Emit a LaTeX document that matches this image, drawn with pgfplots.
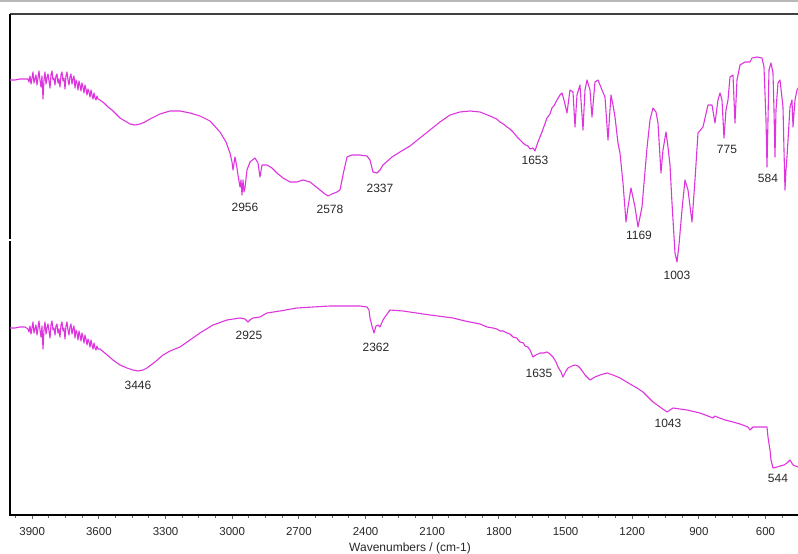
\documentclass[border=0pt]{standalone}
\usepackage{pgfplots}
\pgfplotsset{compat=1.18}
\usepackage{fontspec}
\setmainfont{Liberation Sans}
\definecolor{mag}{RGB}{222,52,222}
\definecolor{txt}{RGB}{40,40,40}
\begin{document}
\begin{tikzpicture}
\useasboundingbox (-10pt,-39pt) rectangle (788pt,515pt);
\draw[black!28, line width=1.6pt] (-10pt,514pt) -- (788pt,514pt);
\begin{axis}[
  scale only axis,
  width=800pt, height=501pt,
  xmin=400, xmax=4000, ymin=0, ymax=501,
  x dir=reverse,
  axis line style={draw=none},
  ytick=\empty,
  xtick={600,900,...,3900},
  minor xtick={450,525,...,3975},
  xtick pos=bottom,
  xtick align=outside,
  major tick length=4.5pt,
  minor tick length=3pt,
  every tick/.style={black!60, line width=0.9pt},
  tick label style={font=\fontsize{11.5}{13}\selectfont, text=txt},
  /pgf/number format/assume math mode=true,
  /pgf/number format/1000 sep={},
  xticklabel style={yshift=-4pt},
  xlabel={Wavenumbers / (cm-1)},
  xlabel style={font=\fontsize{12}{14}\selectfont, text=txt, yshift=-1pt},
  clip=false,
]
\draw[black!75, line width=1.5pt] (rel axis cs:0,1) -- (rel axis cs:1,1);
\draw[black, line width=2pt] (rel axis cs:0,1) -- (rel axis cs:0,0) -- (rel axis cs:1,0);
\draw[white, line width=1.2pt] ([xshift=-2pt]axis cs:4000,275) -- ([xshift=2pt]axis cs:4000,275);
% upper spectrum
\addplot[mag, line width=1.1pt, line join=round] coordinates {
(4000,435)(3977.5,435)(3955,436)(3932.5,436)
(3919,436)(3914.5,433)(3910,439)(3905.5,431)(3901,437)(3896.5,443)(3892,432)(3887.5,436)(3883,440)(3878.5,430)
(3874,437)(3869.5,444)(3865,435)(3860.5,428)(3856,439)(3851.5,416)(3847,435)(3842.5,443)(3838,431)(3833.5,437)
(3829,441)(3824.5,434)(3820,427)(3815.5,440)(3811,444)(3806.5,435)(3802,437)(3797.5,430)(3793,439)(3788.5,441)
(3784,432)(3779.5,436)(3775,428)(3770.5,440)(3766,443)(3761.5,434)(3757,437)(3752.5,426)(3748,439)(3743.5,443)
(3739,435)(3734.5,430)(3730,438)(3725.5,441)(3721,431)(3716.5,436)(3712,439)(3707.5,427)(3703,435)(3698.5,432)
(3694,425)(3689.5,434)(3685,430)(3680.5,424)(3676,432)(3671.5,428)(3667,422)(3662.5,430)(3658,426)(3653.5,420)
(3649,426)(3644.5,423)(3640,418)(3635.5,425)(3631,420)(3626.5,416)(3622,422)(3617.5,417)(3613,415)(3608.5,419)
(3604,416)(3595,415)(3577,412)(3559,408)(3541,405)(3523,401)(3505,397)(3482.5,394)(3460,391)(3437.5,390)
(3415,391)(3392.5,393)(3370,396)(3325,401)(3280,404)(3235,404)(3190,402)(3145,399)(3100,394)(3055,383)
(3028,373)(3010,362)(3001,353)(2996.5,345)(2987.5,358)(2978.5,347)(2974,340)(2965,328)(2960.5,335)(2956,320)
(2951.5,335)(2947,323)(2942.5,327)(2933.5,345)(2920,353)(2897.5,357)(2884,352)(2875,338)(2866,350)(2843.5,350)
(2821,347)(2798.5,342)(2771.5,337)(2740,333)(2708.5,333)(2681.5,335)(2650,333)(2627.5,329)(2605,325)(2582.5,321)
(2569,319)(2551,321)(2528.5,323)(2515,325)(2501.5,340)(2483.5,358)(2461,360)(2425,360)(2393.5,359)(2380,355)
(2366.5,343)(2348.5,342)(2335,345)(2321.5,350)(2281,358)(2245,363)(2200,369)(2155,377)(2110,385)(2065,393)
(2020,400)(1975,403)(1930,404)(1885,403)(1840,399)(1810,396)(1795,393)(1780,391)(1763.5,388)(1750,386)
(1736.5,383)(1725,380)(1714,377)(1700,374)(1691.5,372)(1680,370)(1669,369)(1660,366)(1646.5,367)(1637.5,364)
(1624,373)(1606,383)(1583.5,397)(1570,401)(1561,407)(1550,410)(1538.5,415)(1525,420)(1516,422)(1507,415)
(1493.5,402)(1480,425)(1466.5,423)(1457.5,388)(1448.5,420)(1435,430)(1421.5,385)(1412.5,425)(1403.5,435)(1390,425)
(1381,398)(1367.5,433)(1354,435)(1336,425)(1322.5,418)(1309,375)(1295.5,420)(1286.5,410)(1277.5,398)(1264,372)
(1255,362)(1241.5,332)(1228,293)(1219,308)(1205.5,327)(1187.5,308)(1174,288)(1156,308)(1133.5,367)(1120,395)
(1106.5,407)(1093,403)(1084,392)(1070.5,342)(1061.5,365)(1048,383)(1039,368)(1030,350)(1021,312)(1007.5,262)
(998.5,253)(989.5,270)(976,305)(962.5,335)(949,325)(931,293)(917.5,335)(904,382)(881.5,388)(859,410)
(841,410)(827.5,392)(814,415)(805,422)(796,415)(787,377)(778,405)(769,415)(760,438)(746.5,440)
(737.5,392)(728.5,435)(715,450)(692.5,453)(670,453)(661,457)(638.5,458)(616,457)(607,448)(598,395)
(593.5,348)(589,395)(584.5,445)(575.5,452)(566.5,442)(562,405)(557.5,358)(553,405)(544,432)(535,435)
(521.5,408)(517,365)(512.5,325)(508,345)(503.5,358)(490,408)(481,415)(476.5,388)(467.5,415)(458.5,425)
(445,430)
};
% lower spectrum
\addplot[mag, line width=1.1pt, line join=round] coordinates {
(4000,187)(3977.5,187)(3955,188)(3932.5,188)
(3919,186)(3914.5,183)(3910,189)(3905.5,181)(3901,187)(3896.5,193)(3892,182)(3887.5,186)(3883,190)(3878.5,180)
(3874,187)(3869.5,194)(3865,185)(3860.5,178)(3856,189)(3851.5,166)(3847,185)(3842.5,193)(3838,181)(3833.5,187)
(3829,191)(3824.5,184)(3820,177)(3815.5,190)(3811,194)(3806.5,185)(3802,187)(3797.5,180)(3793,189)(3788.5,191)
(3784,182)(3779.5,186)(3775,178)(3770.5,190)(3766,193)(3761.5,184)(3757,187)(3752.5,176)(3748,189)(3743.5,193)
(3739,185)(3734.5,180)(3730,188)(3725.5,191)(3721,181)(3716.5,186)(3712,189)(3707.5,177)(3703,185)(3698.5,182)
(3694,175)(3689.5,184)(3685,180)(3680.5,174)(3676,182)(3671.5,178)(3667,172)(3662.5,180)(3658,176)(3653.5,170)
(3649,176)(3644.5,173)(3640,168)(3635.5,175)(3631,170)(3626.5,166)(3622,172)(3617.5,167)(3613,165)(3608.5,169)
(3604,166)(3595,166)
(3568,161)(3536.5,155)(3505,150)(3473.5,147)(3446.5,145)(3424,144)(3401.5,145)(3383.5,147)(3347.5,153)(3311.5,160)
(3280,164)(3235,168)(3190,175)(3145,182)(3086.5,190)(3023.5,195)(2965,197)(2942.5,196)(2929,193)(2920,195)
(2906.5,197)(2875,198)(2843.5,202)(2785,204)(2708.5,207)(2636.5,208)(2560,209)(2483.5,209)(2425,209)(2393.5,208)
(2384.5,205)(2380,197)(2371,189)(2362,182)(2353,189)(2344,190)(2335,188)(2321.5,195)(2312.5,198)(2290,205)
(2231.5,204)(2110,200)(2006.5,197)(1952.5,194)(1885,191)(1853.5,188)(1826.5,187)(1810,186)(1795,184)(1780,184)
(1763.5,182)(1750,181)(1736.5,178)(1720,177)(1705,173)(1690,172)(1682.5,169)(1670,168)(1660,165)(1646.5,158)
(1633,160)(1615,162)(1597,162)(1583.5,163)(1570,161)(1556.5,158)(1543,153)(1534,148)(1520.5,143)(1511.5,138)
(1498,144)(1489,147)(1471,149)(1457.5,150)(1444,149)(1435,147)(1421.5,143)(1412.5,140)(1399,137)(1390,135)
(1367.5,138)(1345,140)(1313.5,142)(1286.5,140)(1255,137)(1210,131)(1178.5,127)(1151.5,123)(1129,118)(1106.5,113)
(1075,108)(1043.5,103)(1030,105)(1016.5,107)(985,106)(953.5,105)(895,102)(836.5,97)(827.5,99)(818.5,98)
(782.5,95)(746.5,93)(715,91)(679,88)(670,85)(661,87)(656.5,88)(625,88)(593.5,88)(589,78)
(580,65)(575.5,55)(566.5,47)(548.5,48)(535,49)(517,50)(503.5,52)(490,55)(476.5,50)(454,48)
(445,47)
};
\begin{scope}[every node/.style={font=\fontsize{12}{14}\selectfont, text=txt, inner sep=0pt}]
\node at (axis cs:2942.5,308) {2956};
\node at (axis cs:2560,306) {2578};
\node at (axis cs:2335,327) {2337};
\node at (axis cs:1637.5,355) {1653};
\node at (axis cs:1169.5,280) {1169};
\node at (axis cs:998.5,240) {1003};
\node at (axis cs:773.5,366) {775};
\node at (axis cs:589,337) {584};
\node at (axis cs:2924.5,180) {2925};
\node at (axis cs:3424,130) {3446};
\node at (axis cs:2353,168) {2362};
\node at (axis cs:1619.5,142) {1635};
\node at (axis cs:1039,92) {1043};
\node at (axis cs:544,37) {544};
\end{scope}
\end{axis}
\end{tikzpicture}
\end{document}
